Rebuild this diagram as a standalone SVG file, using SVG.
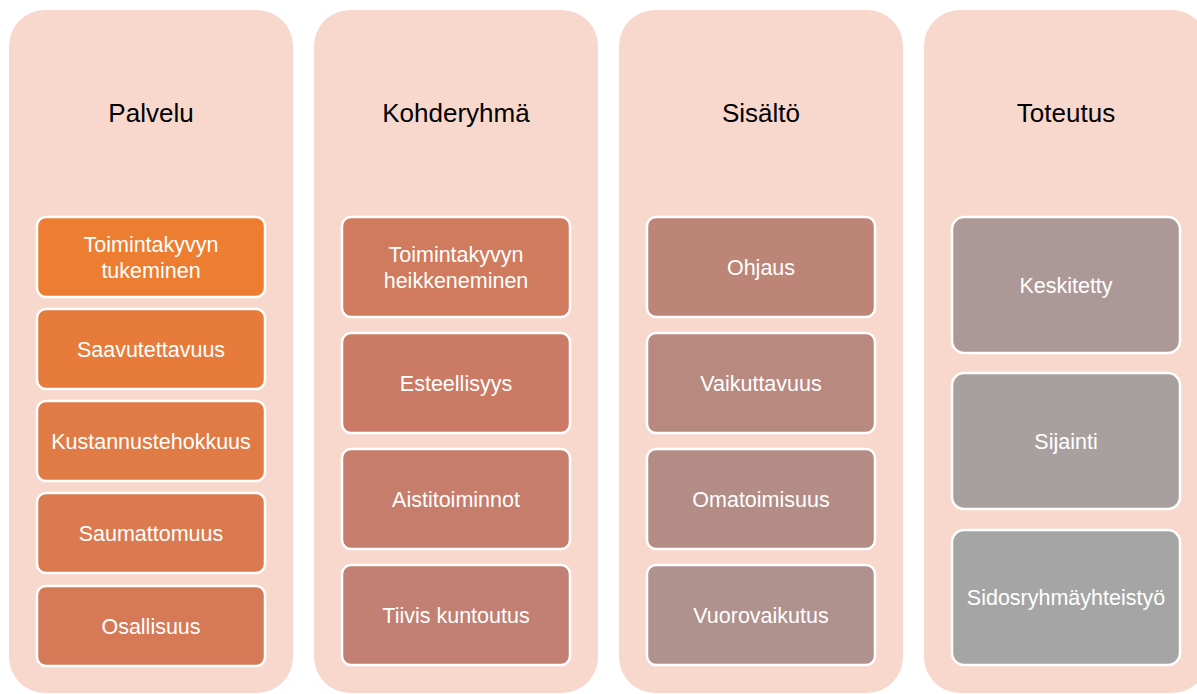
<svg xmlns="http://www.w3.org/2000/svg" width="1197" height="694" viewBox="0 0 1197 694">
  <style>
    .col { fill: #F8D8CD; }
    .head { font-family: "Liberation Sans", Arial, sans-serif; font-size: 26px; fill: #000000; text-anchor: middle; }
    .box { stroke: #FFFFFF; stroke-width: 2.5; }
    .lbl { font-family: "Liberation Sans", Arial, sans-serif; font-size: 21.5px; fill: #FFFFFF; text-anchor: middle; }
  </style>
  <rect width="1197" height="694" fill="#FFFFFF"/>

  <!-- Column 1: Palvelu -->
  <g id="col-palvelu">
    <rect class="col" x="9" y="10" width="284" height="683" rx="36"/>
    <text class="head" x="151" y="122">Palvelu</text>
  </g>
  <g id="palvelu-1">
    <rect class="box" x="37" y="217" width="228" height="80" rx="9" fill="#ED7D31"/>
    <text class="lbl" x="151" y="252">Toimintakyvyn</text>
    <text class="lbl" x="151" y="278">tukeminen</text>
  </g>
  <g id="palvelu-2">
    <rect class="box" x="37" y="309" width="228" height="80" rx="9" fill="#E67B3B"/>
    <text class="lbl" x="151" y="357">Saavutettavuus</text>
  </g>
  <g id="palvelu-3">
    <rect class="box" x="37" y="401" width="228" height="80" rx="9" fill="#E07B45"/>
    <text class="lbl" x="151" y="449">Kustannustehokkuus</text>
  </g>
  <g id="palvelu-4">
    <rect class="box" x="37" y="493" width="228" height="80" rx="9" fill="#DB7A4F"/>
    <text class="lbl" x="151" y="541">Saumattomuus</text>
  </g>
  <g id="palvelu-5">
    <rect class="box" x="37" y="586" width="228" height="80" rx="9" fill="#D67957"/>
    <text class="lbl" x="151" y="634">Osallisuus</text>
  </g>

  <!-- Column 2: Kohderyhmä -->
  <g id="col-kohderyhma">
    <rect class="col" x="314" y="10" width="284" height="683" rx="36"/>
    <text class="head" x="456" y="122">Kohderyhmä</text>
  </g>
  <g id="kohderyhma-1">
    <rect class="box" x="342" y="217" width="228" height="100" rx="9" fill="#D07A5E"/>
    <text class="lbl" x="456" y="262">Toimintakyvyn</text>
    <text class="lbl" x="456" y="288">heikkeneminen</text>
  </g>
  <g id="kohderyhma-2">
    <rect class="box" x="342" y="333" width="228" height="100" rx="9" fill="#CB7B65"/>
    <text class="lbl" x="456" y="391">Esteellisyys</text>
  </g>
  <g id="kohderyhma-3">
    <rect class="box" x="342" y="449" width="228" height="100" rx="9" fill="#C67D6C"/>
    <text class="lbl" x="456" y="507">Aistitoiminnot</text>
  </g>
  <g id="kohderyhma-4">
    <rect class="box" x="342" y="565" width="228" height="100" rx="9" fill="#C18073"/>
    <text class="lbl" x="456" y="623">Tiivis kuntoutus</text>
  </g>

  <!-- Column 3: Sisältö -->
  <g id="col-sisalto">
    <rect class="col" x="619" y="10" width="284" height="683" rx="36"/>
    <text class="head" x="761" y="122">Sisältö</text>
  </g>
  <g id="sisalto-1">
    <rect class="box" x="647" y="217" width="228" height="100" rx="9" fill="#BD8578"/>
    <text class="lbl" x="761" y="275">Ohjaus</text>
  </g>
  <g id="sisalto-2">
    <rect class="box" x="647" y="333" width="228" height="100" rx="9" fill="#B8897F"/>
    <text class="lbl" x="761" y="391">Vaikuttavuus</text>
  </g>
  <g id="sisalto-3">
    <rect class="box" x="647" y="449" width="228" height="100" rx="9" fill="#B38C86"/>
    <text class="lbl" x="761" y="507">Omatoimisuus</text>
  </g>
  <g id="sisalto-4">
    <rect class="box" x="647" y="565" width="228" height="100" rx="9" fill="#AF918D"/>
    <text class="lbl" x="761" y="623">Vuorovaikutus</text>
  </g>

  <!-- Column 4: Toteutus -->
  <g id="col-toteutus">
    <rect class="col" x="924" y="10" width="284" height="683" rx="36"/>
    <text class="head" x="1066" y="122">Toteutus</text>
  </g>
  <g id="toteutus-1">
    <rect class="box" x="952" y="217" width="228" height="136" rx="12" fill="#AD9898"/>
    <text class="lbl" x="1066" y="293">Keskitetty</text>
  </g>
  <g id="toteutus-2">
    <rect class="box" x="952" y="373" width="228" height="136" rx="12" fill="#A89F9F"/>
    <text class="lbl" x="1066" y="449">Sijainti</text>
  </g>
  <g id="toteutus-3">
    <rect class="box" x="952" y="530" width="228" height="135" rx="12" fill="#A5A5A5"/>
    <text class="lbl" x="1066" y="605">Sidosryhmäyhteistyö</text>
  </g>
</svg>
